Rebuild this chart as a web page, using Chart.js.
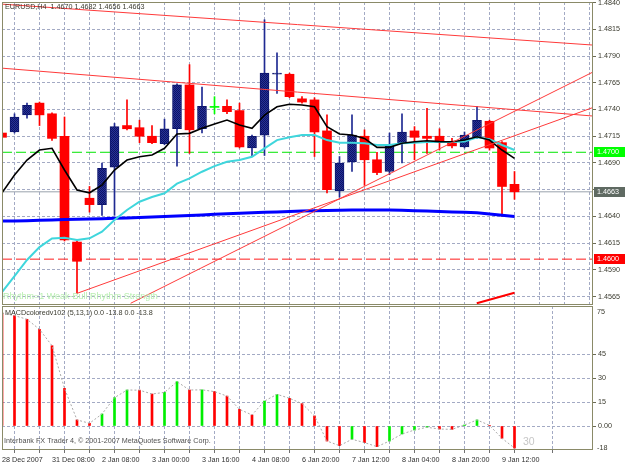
<!DOCTYPE html>
<html>
<head>
<meta charset="utf-8">
<title>EURUSD,H4</title>
<script src="https://cdn.jsdelivr.net/npm/chart.js@4.4.1/dist/chart.umd.min.js"></script>
<style>
  html, body { margin: 0; padding: 0; background: #ffffff; }
  #wrap { position: relative; width: 625px; height: 469px; overflow: hidden; background: #ffffff; }
  canvas { position: absolute; left: 0; }
  #priceChart { top: 0; }
  #macdChart { top: 306px; }
</style>
</head>
<body>
<div id="wrap">
  <canvas id="priceChart" width="625" height="306"></canvas>
  <canvas id="macdChart" width="625" height="163"></canvas>
</div>
<script>
// EURUSD H4 candles, bar 0 = 28 Dec 2007 16:00 ... bar 41 = 9 Jan 16:00
const barOpen  = [1.4718, 1.4719, 1.4735, 1.4746, 1.4736, 1.4715, 1.4616, 1.4657, 1.4651, 1.4686,
                  1.4725, 1.4723, 1.4715, 1.4708, 1.4722, 1.4763, 1.4722, 1.4742, 1.4743, 1.4739,
                  1.4704, 1.4716, 1.4773, 1.4773, 1.4750, 1.4749, 1.4720, 1.4664, 1.4691, 1.4715,
                  1.4693, 1.4682, 1.4708, 1.4720, 1.4715, 1.4715, 1.4709, 1.4705, 1.4714, 1.4729,
                  1.4709, 1.4670];
const barHigh  = [1.4720, 1.4736, 1.4746, 1.4747, 1.4737, 1.4733, 1.4617, 1.4668, 1.4690, 1.4727,
                  1.4749, 1.4730, 1.4725, 1.4731, 1.4764, 1.4782, 1.4761, 1.4752, 1.4749, 1.4746,
                  1.4716, 1.4824, 1.4793, 1.4774, 1.4752, 1.4751, 1.4735, 1.4696, 1.4735, 1.4721,
                  1.4700, 1.4718, 1.4736, 1.4724, 1.4741, 1.4722, 1.4713, 1.4719, 1.4743, 1.4730,
                  1.4710, 1.4682];
const barLow   = [1.4713, 1.4718, 1.4732, 1.4725, 1.4711, 1.4617, 1.4568, 1.4644, 1.4641, 1.4641,
                  1.4721, 1.4709, 1.4708, 1.4707, 1.4687, 1.4699, 1.4718, 1.4736, 1.4736, 1.4704,
                  1.4696, 1.4697, 1.4755, 1.4751, 1.4746, 1.4696, 1.4662, 1.4658, 1.4682, 1.4669,
                  1.4679, 1.4679, 1.4690, 1.4693, 1.4699, 1.4702, 1.4704, 1.4704, 1.4713, 1.4702,
                  1.4640, 1.4656];
const barClose = [1.4714, 1.4733, 1.4744, 1.4735, 1.4713, 1.4618, 1.4598, 1.4651, 1.4685, 1.4724,
                  1.4722, 1.4715, 1.4709, 1.4722, 1.4763, 1.4721, 1.4743, 1.4742, 1.4738, 1.4705,
                  1.4715, 1.4774, 1.4774, 1.4752, 1.4747, 1.4719, 1.4665, 1.4690, 1.4716, 1.4693,
                  1.4681, 1.4706, 1.4719, 1.4714, 1.4713, 1.4710, 1.4706, 1.4716, 1.4730, 1.4704,
                  1.4668, 1.4663];

// moving averages
const maFast = [1.46621, 1.46787, 1.46927, 1.47021, 1.47037, 1.46834, 1.46647, 1.46621, 1.46693, 1.46834,
                1.46927, 1.46958, 1.46974, 1.47037, 1.47171, 1.47177, 1.47224, 1.47264, 1.47302, 1.47255,
                1.47224, 1.47348, 1.47426, 1.47449, 1.47442, 1.47426, 1.47239, 1.47171, 1.47161, 1.47130,
                1.47046, 1.47046, 1.47084, 1.47099, 1.47108, 1.47100, 1.47099, 1.47114, 1.47145, 1.47114,
                1.47021, 1.46943];
const maMid  = [1.45692, 1.45842, 1.45992, 1.46113, 1.46193, 1.46200, 1.46179, 1.46195, 1.46257, 1.46366,
                1.46460, 1.46537, 1.46581, 1.46616, 1.46707, 1.46756, 1.46818, 1.46871, 1.46911, 1.46927,
                1.46958, 1.47037, 1.47114, 1.47140, 1.47161, 1.47161, 1.47114, 1.47089, 1.47089, 1.47084,
                1.47068, 1.47068, 1.47084, 1.47089, 1.47096, 1.47096, 1.47096, 1.47100, 1.47140, 1.47121,
                1.47068, 1.47021];
const maSlow = [1.46357, 1.46357, 1.46359, 1.46363, 1.46366, 1.46371, 1.46373, 1.46375, 1.46378, 1.46382,
                1.46385, 1.46389, 1.46394, 1.46399, 1.46403, 1.46408, 1.46413, 1.46419, 1.46424, 1.46429,
                1.46433, 1.46438, 1.46441, 1.46446, 1.46450, 1.46452, 1.46455, 1.46457, 1.46460, 1.46460,
                1.46460, 1.46460, 1.46458, 1.46454, 1.46450, 1.46446, 1.46441, 1.46438, 1.46433, 1.46422,
                1.46410, 1.46399];

// MACD histogram (signal period 1, so the dotted signal follows it)
const macdValues = [70.6, 69.0, 66.7, 60.4, 50.2, 23.5, 3.8, 1.7, 7.5, 17.7,
                    22.5, 22.4, 20.0, 21.0, 27.7, 22.5, 22.6, 21.5, 18.7, 10.4,
                    6.9, 15.6, 19.8, 17.3, 14.0, 6.3, -9.4, -12.3, -8.3, -10.4,
                    -12.9, -9.4, -5.0, -2.5, -0.8, -1.9, -2.1, 0.6, 3.8, 0.4,
                    -7.7, -13.8];

// trend lines: [barFrom, priceFrom, barTo, priceTo]
const trendLines = [
  [0, 1.48386, 47.28, 1.48003],
  [0, 1.47787, 47.28, 1.47339],
  [6, 1.45680, 47.28, 1.47419],
  [10.29, 1.45587, 47.28, 1.47751]
];
const rhythmLine = [37.98, 1.45587, 41, 1.45686];

const timeLabels = ['28 Dec 2007', '31 Dec 08:00', '2 Jan 08:00', '3 Jan 00:00', '3 Jan 16:00',
                    '4 Jan 08:00', '6 Jan 20:00', '7 Jan 12:00', '8 Jan 04:00', '8 Jan 20:00', '9 Jan 12:00'];
const priceTicks = [1.4840, 1.4815, 1.4790, 1.4765, 1.4740, 1.4715, 1.4690, 1.4665, 1.4640, 1.4615, 1.4590, 1.4565];
const levelPrices = [1.4700, 1.4663, 1.4600];
const macdTicks = [0, 15, 30, 45];
const macdTickLabels = ['0.00', '15', '30', '45'];
const macdTopLabel = '75';
const macdBottomLabel = '-18';

const xMin = 0, xMax = 47.28;
const priceMin = 1.45571, priceMax = 1.48406;
const macdMin = -15, macdMax = 75;

Chart.defaults.font.family = "'Liberation Sans', Arial, sans-serif";
Chart.defaults.font.size = 7.2;
Chart.defaults.color = '#3a3a2e';

const GRID = '#a3aac4';
const FRAME = '#8a8a68';
const TEXT = '#3a3a2e';

const gridBars = Array.from({ length: 24 }, (_, k) => k * 2);
const pts = arr => arr.map((v, i) => ({ x: i, y: v }));
const seg = s => [{ x: s[0], y: s[1] }, { x: s[2], y: s[3] }];

function pinSize(prop, size) {
    return scale => {
        scale[prop] = size;
        scale.paddingTop = 0;
        scale.paddingBottom = 0;
        scale.paddingLeft = 0;
        scale.paddingRight = 0;
    };
}

function bullPattern() {
    const c = document.createElement('canvas');
    c.width = 2;
    c.height = 2;
    const g = c.getContext('2d');
    g.fillStyle = '#27309a';
    g.fillRect(0, 0, 2, 2);
    g.fillStyle = '#0d1563';
    g.fillRect(0, 0, 1, 1);
    g.fillRect(1, 1, 1, 1);
    return g.createPattern(c, 'repeat');
}

const framePlugin = {
    id: 'frame',
    afterDatasetsDraw(chart) {
        const { ctx, chartArea: a } = chart;
        ctx.save();
        ctx.strokeStyle = FRAME;
        ctx.lineWidth = 1;
        ctx.strokeRect(a.left + 0.5, a.top + 0.5, a.right - a.left - 1, a.bottom - a.top - 1);
        ctx.restore();
    }
};

function lineSet(data, color, width, order, dash) {
    return {
        type: 'line', data, borderColor: color, borderWidth: width, borderDash: dash || [],
        pointRadius: 0, tension: 0, order, fill: false
    };
}

// ---- price panel ----
const bull = bullPattern();
const isUp = barOpen.map((o, i) => barClose[i] > o);
const isDown = barOpen.map((o, i) => barClose[i] < o);
const bodyFill = isUp.map((u, i) => u ? bull : (isDown[i] ? '#ff0000' : '#00ff00'));
const bodyEdge = isUp.map((u, i) => u ? '#0e166e' : (isDown[i] ? '#ff0000' : '#00ff00'));
const wickFill = isUp.map((u, i) => u ? '#1f2a92' : (isDown[i] ? '#ff0000' : '#00ff00'));

const levelLine = ['#00e600', '#9aa2ac', '#ff1a1a'];
const levelDash = [[10, 4], [], [10, 4]];
const levelBox = ['#00ff00', '#5f6a62', '#ff0000'];

const priceDatasets = [];
trendLines.forEach(t => priceDatasets.push(lineSet(seg(t), '#ff3a3a', 1, 0)));
priceDatasets.push(lineSet(seg(rhythmLine), '#ff0000', 2, 0));
priceDatasets.push(lineSet(pts(maFast), '#000000', 1.6, 1));
priceDatasets.push(lineSet(pts(maMid), '#3fd6dc', 2, 2));
priceDatasets.push(lineSet(pts(maSlow), '#0000ff', 3, 3));
priceDatasets.push({
    type: 'bar',
    data: barOpen.map((o, i) => ({ x: i, y: [o, barClose[i]] })),
    backgroundColor: bodyFill,
    borderColor: bodyEdge,
    borderWidth: isUp.map(u => u ? 1 : 0),
    borderSkipped: false,
    barThickness: 9,
    minBarLength: 1,
    grouped: false,
    clip: 0,
    order: 4
});
priceDatasets.push({
    type: 'bar',
    data: barLow.map((l, i) => ({ x: i, y: [l, barHigh[i]] })),
    backgroundColor: wickFill,
    borderWidth: 0,
    barThickness: 1,
    grouped: false,
    clip: 0,
    order: 5
});
levelPrices.forEach((p, k) => {
    priceDatasets.push(lineSet(seg([xMin, p, xMax, p]), levelLine[k], 1, 6, levelDash[k]));
});

const priceText = {
    id: 'priceText',
    afterDraw(chart) {
        const { ctx } = chart;
        const y = chart.scales.y;
        ctx.save();
        ctx.textBaseline = 'middle';
        ctx.font = "7.2px 'Liberation Sans', Arial, sans-serif";
        levelPrices.forEach((p, k) => {
            const py = Math.round(y.getPixelForValue(p));
            ctx.fillStyle = levelBox[k];
            ctx.fillRect(594, py - 5, 31, 10);
            ctx.fillStyle = '#ffffff';
            ctx.textAlign = 'left';
            ctx.fillText(p.toFixed(4), 597, py);
        });
        const last = barOpen.length - 1;
        ctx.fillStyle = TEXT;
        ctx.fillText('EURUSD,H4  ' + [barOpen[last], barHigh[last], barLow[last], barClose[last]]
            .map(v => v.toFixed(4)).join(' '), 5, 7);
        ctx.fillStyle = '#b8eeb0';
        ctx.font = "9px 'Liberation Sans', Arial, sans-serif";
        ctx.fillText('Rhythm=1 Weak-Bull Rhythm Strength', 3, 297);
        ctx.restore();
    }
};

new Chart(document.getElementById('priceChart'), {
    type: 'bar',
    data: { datasets: priceDatasets },
    options: {
        responsive: false,
        animation: false,
        layout: { padding: { left: 2, top: 2, right: 0, bottom: 1 } },
        plugins: { legend: { display: false }, tooltip: { enabled: false } },
        scales: {
            x: {
                type: 'linear', min: xMin, max: xMax, offset: false,
                afterBuildTicks: s => { s.ticks = gridBars.map(v => ({ value: v })); },
                ticks: { display: false },
                grid: { color: GRID, drawTicks: false },
                border: { display: false, dash: [3, 2] },
                afterFit: pinSize('height', 0)
            },
            y: {
                type: 'linear', position: 'right', min: priceMin, max: priceMax,
                afterBuildTicks: s => { s.ticks = priceTicks.map(v => ({ value: v })); },
                ticks: { callback: v => v.toFixed(4), color: TEXT, padding: 2, autoSkip: false },
                grid: { color: GRID, tickLength: 3, tickColor: '#6b6b55', tickBorderDash: [] },
                border: { display: false, dash: [3, 2] },
                afterFit: pinSize('width', 32)
            }
        }
    },
    plugins: [framePlugin, priceText]
});

// ---- MACD panel ----
const macdColors = macdValues.map((v, i) => (i > 0 && v > macdValues[i - 1]) ? '#00ee00' : '#ff0000');

const macdText = {
    id: 'macdText',
    afterDraw(chart) {
        const { ctx, chartArea: a } = chart;
        const last = macdValues[macdValues.length - 1].toFixed(1);
        ctx.save();
        ctx.textBaseline = 'middle';
        ctx.font = "7.2px 'Liberation Sans', Arial, sans-serif";
        ctx.fillStyle = TEXT;
        ctx.fillText('MACDcoloredv102 (5,13,1) 0.0 ' + last + ' 0.0 ' + last, 5, 7);
        ctx.fillText(macdTopLabel, 597, a.top + 6);
        ctx.fillText(macdBottomLabel, 597, a.bottom - 2);
        ctx.fillStyle = '#505050';
        ctx.fillText('Interbank FX Trader 4, \u00a9 2001-2007 MetaQuotes Software Corp.', 4, a.bottom - 9);
        ctx.fillStyle = '#c6c6c6';
        ctx.font = "10.5px 'Liberation Sans', Arial, sans-serif";
        ctx.fillText('30', 523, 136);
        ctx.restore();
    }
};

new Chart(document.getElementById('macdChart'), {
    type: 'bar',
    data: {
        datasets: [
            lineSet(pts(macdValues), '#a9a9a9', 1, 0, [2, 2]),
            {
                type: 'bar',
                data: pts(macdValues),
                backgroundColor: macdColors,
                borderWidth: 0,
                barThickness: 2,
                grouped: false,
                clip: 0,
                order: 1
            }
        ]
    },
    options: {
        responsive: false,
        animation: false,
        layout: { padding: { left: 2, top: 0, right: 0, bottom: 0 } },
        plugins: { legend: { display: false }, tooltip: { enabled: false } },
        scales: {
            x: {
                type: 'linear', min: xMin, max: xMax, offset: false,
                afterBuildTicks: s => { s.ticks = gridBars.map(v => ({ value: v })); },
                ticks: {
                    autoSkip: false, maxRotation: 0, minRotation: 0, align: 'start', padding: 3,
                    color: '#303030',
                    callback: v => (v % 4 === 0 ? timeLabels[v / 4] : '')
                },
                grid: { color: GRID, tickLength: 3, tickColor: '#707070', tickBorderDash: [] },
                border: { display: false, dash: [3, 2] },
                afterFit: pinSize('height', 19)
            },
            y: {
                type: 'linear', position: 'right', min: macdMin, max: macdMax,
                afterBuildTicks: s => { s.ticks = macdTicks.map(v => ({ value: v })); },
                ticks: { callback: (v, i) => macdTickLabels[i], color: TEXT, padding: 2, autoSkip: false },
                grid: { color: GRID, tickLength: 3, tickColor: '#6b6b55', tickBorderDash: [] },
                border: { display: false, dash: [3, 2] },
                afterFit: pinSize('width', 32)
            }
        }
    },
    plugins: [framePlugin, macdText]
});
</script>
</body>
</html>
